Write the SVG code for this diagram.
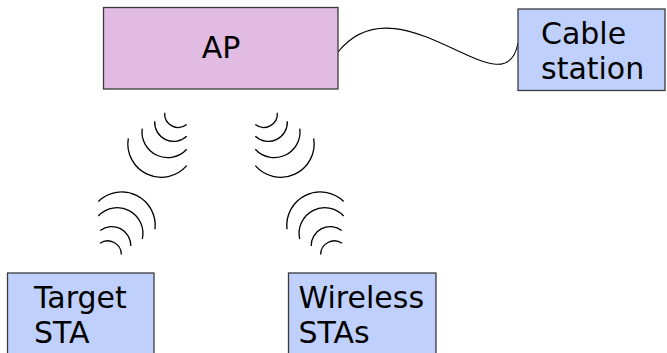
<svg xmlns="http://www.w3.org/2000/svg" width="667" height="353" viewBox="0 0 667 353">
<style>
.box{stroke:#3a3a3a;stroke-width:1.3}
.ap{fill:#e1bbe2}
.sta{fill:#c0d0fd}
.lbl{font-family:"DejaVu Sans",sans-serif;font-size:30px;fill:#000}
.wave{fill:none;stroke:#000;stroke-width:1.3;stroke-linecap:butt}
.wire{fill:none;stroke:#000;stroke-width:1.1}
</style>
<defs>
<g id="upper">
<path class="wave" d="M164.7,112.8 A13.6 13.6 0 0 0 186.7,124.5"/>
<path class="wave" d="M154.7,121.3 A19 19 0 0 0 186.7,136.2"/>
<path class="wave" d="M142.2,128.6 A25.7 25.7 0 0 0 186.7,149.2"/>
<path class="wave" d="M128.3,138.3 A33.5 33.5 0 0 0 186.7,165.7"/>
</g>
<g id="lower">
<path class="wave" d="M100,243.3 A13.6 13.6 0 0 1 121.3,254.5"/>
<path class="wave" d="M100.3,230.5 A19 19 0 0 1 130.8,246"/>
<path class="wave" d="M98.3,216 A25.7 25.7 0 0 1 142.3,239"/>
<path class="wave" d="M98.3,201.5 A33.5 33.5 0 0 1 155,229.3"/>
</g>
</defs>
<g id="connectors">
<path class="wire" d="M338,52 C400,-25 505,115 518,43"/>
</g>
<g id="waves">
<use href="#upper"/>
<use href="#upper" transform="translate(442,0) scale(-1,1)"/>
<use href="#lower"/>
<use href="#lower" transform="translate(442,0) scale(-1,1)"/>
</g>
<g id="ap">
<rect class="box ap" x="103.5" y="7.5" width="234.5" height="81.5"/>
<text class="lbl" x="221" y="58" text-anchor="middle">AP</text>
</g>
<g id="cable-station">
<rect class="box sta" x="518" y="9" width="147" height="81.5"/>
<text class="lbl" x="541" y="44">Cable</text>
<text class="lbl" x="541" y="79">station</text>
</g>
<g id="target-sta">
<rect class="box sta" x="7.5" y="273" width="146.5" height="90"/>
<text class="lbl" x="34" y="308">Target</text>
<text class="lbl" x="34" y="343">STA</text>
</g>
<g id="wireless-stas">
<rect class="box sta" x="288.5" y="273" width="147.5" height="90"/>
<text class="lbl" x="298.5" y="308">Wireless</text>
<text class="lbl" x="298.5" y="343">STAs</text>
</g>
</svg>
